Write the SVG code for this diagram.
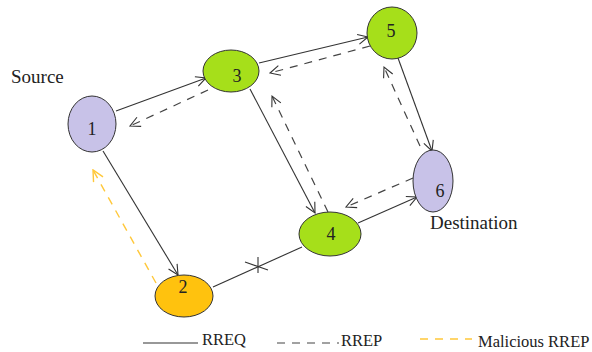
<svg xmlns="http://www.w3.org/2000/svg" width="592" height="352" viewBox="0 0 592 352">
<style>
.node{stroke:#333;stroke-width:1}
.lav{fill:#c8c2e8}
.grn{fill:#a6df1a}
.org{fill:#ffc20e}
.num{font-family:"Liberation Serif",serif;font-size:18px;fill:#222;text-anchor:middle}
.lbl{font-family:"Liberation Serif",serif;font-size:19px;fill:#222}
.leg{font-family:"Liberation Serif",serif;font-size:16.5px;fill:#222}
.req{stroke:#333;stroke-width:1.1;fill:none}
.rep{stroke:#444;stroke-width:1.2;fill:none;stroke-dasharray:8 7}
.mal{stroke:#ffc83a;stroke-width:1.4;fill:none;stroke-dasharray:8 7}
</style>
<defs>
<marker id="a" viewBox="0 0 12 12" refX="11" refY="6" markerWidth="12" markerHeight="12" markerUnits="userSpaceOnUse" orient="auto">
<path d="M1,1 L11,6 L1,11" fill="none" stroke="#333" stroke-width="1.1"/>
</marker>
<marker id="y" viewBox="0 0 12 12" refX="11" refY="6" markerWidth="13" markerHeight="13" markerUnits="userSpaceOnUse" orient="auto">
<path d="M1,1 L11,6 L1,11" fill="none" stroke="#ffc83a" stroke-width="1.3"/>
</marker>
</defs>
<rect width="592" height="352" fill="#fff"/>
<g id="connectors">
<line class="req" x1="116" y1="111" x2="206" y2="78" marker-end="url(#a)"/>
<line class="rep" x1="208" y1="90" x2="130" y2="126" marker-end="url(#a)"/>
<line class="req" x1="259" y1="63" x2="368" y2="37" marker-end="url(#a)"/>
<line class="rep" x1="370" y1="46" x2="270" y2="73" marker-end="url(#a)"/>
<line class="req" x1="250" y1="89" x2="315" y2="213" marker-end="url(#a)"/>
<line class="rep" x1="328" y1="212" x2="272" y2="96" marker-end="url(#a)"/>
<line class="req" x1="398" y1="58" x2="432" y2="151" marker-end="url(#a)"/>
<line class="rep" x1="420" y1="146" x2="384" y2="67" marker-end="url(#a)"/>
<line class="req" x1="358" y1="223" x2="417" y2="197" marker-end="url(#a)"/>
<line class="rep" x1="413" y1="178" x2="346" y2="207" marker-end="url(#a)"/>
<line class="req" x1="103" y1="151" x2="178" y2="275" marker-end="url(#a)"/>
<line class="mal" x1="156" y1="283" x2="93" y2="170" marker-end="url(#y)"/>
<line class="req" x1="213" y1="287" x2="302" y2="247"/>
<path class="req" d="M258,257 L258,273 M245,262 L268,270"/>
</g>
<g id="node1"><ellipse class="node lav" cx="92" cy="124" rx="24" ry="28"/><text class="num" x="92" y="135">1</text></g>
<g id="node3"><ellipse class="node grn" cx="231" cy="71" rx="28" ry="21"/><text class="num" x="237" y="82">3</text></g>
<g id="node5"><ellipse class="node grn" cx="392" cy="33" rx="25" ry="26"/><text class="num" x="391" y="37">5</text></g>
<g id="node6"><ellipse class="node lav" cx="433" cy="181" rx="20" ry="31"/><text class="num" x="440" y="197">6</text></g>
<g id="node4"><ellipse class="node grn" cx="330" cy="234" rx="31" ry="22"/><text class="num" x="331" y="240">4</text></g>
<g id="node2"><ellipse class="node org" cx="184" cy="296" rx="29" ry="21"/><text class="num" x="183" y="293">2</text></g>
<g id="labels">
<text class="lbl" x="11" y="83">Source</text>
<text class="lbl" x="430" y="229">Destination</text>
</g>
<g id="legend">
<line class="req" x1="143" y1="343" x2="198" y2="343"/>
<text class="leg" x="202" y="345">RREQ</text>
<line class="rep" x1="277" y1="343" x2="339" y2="343"/>
<text class="leg" x="341" y="346">RREP</text>
<line class="mal" x1="420" y1="339" x2="472" y2="339"/>
<text class="leg" x="478" y="347">Malicious RREP</text>
</g>
</svg>
